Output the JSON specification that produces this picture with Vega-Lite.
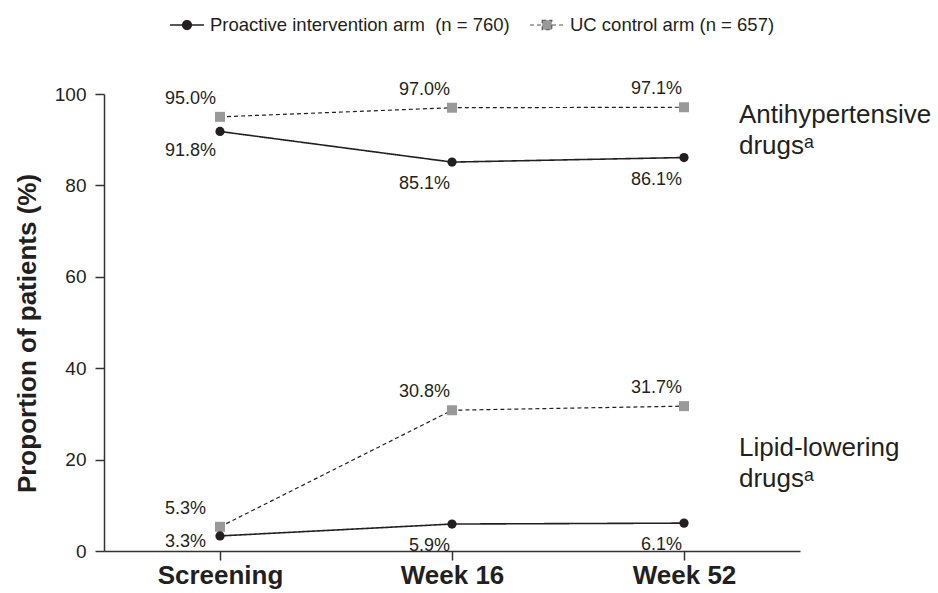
{
  "$schema": "https://vega.github.io/schema/vega-lite/v6.json",
  "width": 696,
  "height": 457,
  "autosize": {"type": "none"},
  "padding": {"left": 104, "top": 94, "right": 138, "bottom": 42},
  "datasets": {
    "usage": [
      {"drug": "Antihypertensive", "visit": "Screening", "arm": "Proactive", "value": 91.8},
      {"drug": "Antihypertensive", "visit": "Week 16", "arm": "Proactive", "value": 85.1},
      {"drug": "Antihypertensive", "visit": "Week 52", "arm": "Proactive", "value": 86.1},
      {"drug": "Antihypertensive", "visit": "Screening", "arm": "UC", "value": 95.0},
      {"drug": "Antihypertensive", "visit": "Week 16", "arm": "UC", "value": 97.0},
      {"drug": "Antihypertensive", "visit": "Week 52", "arm": "UC", "value": 97.1},
      {"drug": "Lipid", "visit": "Screening", "arm": "Proactive", "value": 3.3},
      {"drug": "Lipid", "visit": "Week 16", "arm": "Proactive", "value": 5.9},
      {"drug": "Lipid", "visit": "Week 52", "arm": "Proactive", "value": 6.1},
      {"drug": "Lipid", "visit": "Screening", "arm": "UC", "value": 5.3},
      {"drug": "Lipid", "visit": "Week 16", "arm": "UC", "value": 30.8},
      {"drug": "Lipid", "visit": "Week 52", "arm": "UC", "value": 31.7}
    ],
    "notes": [
      {"label": ["Antihypertensive", "drugsᵃ"], "value": 93.6},
      {"label": ["Lipid-lowering", "drugsᵃ"], "value": 20.8}
    ]
  },
  "data": {"name": "usage"},
  "transform": [
    {"calculate": "format(datum.value, '.1f') + '%'", "as": "pct"}
  ],
  "encoding": {
    "x": {
      "field": "visit",
      "type": "ordinal",
      "sort": ["Screening", "Week 16", "Week 52"],
      "scale": {"type": "point", "padding": 0.5},
      "axis": {
        "title": null,
        "labelAngle": 0,
        "labelFontSize": 26,
        "labelFontWeight": "bold",
        "labelColor": "#231f20",
        "labelBaseline": "alphabetic",
        "labelPadding": 23,
        "tickSize": 9,
        "tickWidth": 1.5,
        "tickColor": "#333333",
        "domainColor": "#333333",
        "domainWidth": 1.5
      }
    },
    "y": {
      "field": "value",
      "type": "quantitative",
      "scale": {"domain": [0, 100], "nice": false},
      "axis": {
        "title": "Proportion of patients (%)",
        "titleFontSize": 26,
        "titleFontWeight": "bold",
        "titleColor": "#231f20",
        "titleAngle": -90,
        "titleAlign": "center",
        "titleBaseline": "middle",
        "titleX": -77,
        "titleY": 239,
        "values": [0, 20, 40, 60, 80, 100],
        "grid": false,
        "labelFontSize": 19,
        "labelColor": "#231f20",
        "labelPadding": 9,
        "tickSize": 9,
        "tickWidth": 1.5,
        "tickColor": "#333333",
        "domainColor": "#333333",
        "domainWidth": 1.5
      }
    }
  },
  "layer": [
    {
      "mark": {"type": "line", "color": "#231f20"},
      "encoding": {
        "detail": {"field": "drug"},
        "strokeDash": {
          "field": "arm",
          "type": "nominal",
          "scale": {"domain": ["Proactive", "UC"], "range": [[1, 0], [4, 3]]},
          "legend": {
            "title": null,
            "orient": "none",
            "direction": "horizontal",
            "values": ["Proactive"],
            "legendX": 65,
            "legendY": -87,
            "symbolType": "M-1,0L1,0M-0.25,0A0.25,0.25,0,1,1,0.25,0A0.25,0.25,0,1,1,-0.25,0Z",
            "symbolSize": 1156,
            "symbolStrokeWidth": 1.6,
            "symbolFillColor": "#231f20",
            "symbolStrokeColor": "#231f20",
            "symbolOpacity": 1,
            "labelFontSize": 18.5,
            "labelColor": "#231f20",
            "labelOffset": 5,
            "labelLimit": 400,
            "labelExpr": "'Proactive intervention arm\u00a0 (n = 760)'"
          }
        },
        "strokeWidth": {
          "condition": {"test": "datum.arm === 'UC'", "value": 1.2},
          "value": 1.6
        }
      }
    },
    {
      "transform": [{"filter": "datum.arm === 'UC'"}],
      "mark": {"type": "point", "shape": "square", "filled": true, "size": 100, "opacity": 1},
      "encoding": {
        "color": {
          "field": "arm",
          "type": "nominal",
          "scale": {"domain": ["UC"], "range": ["#999999"]},
          "legend": {
            "title": null,
            "orient": "none",
            "direction": "horizontal",
            "values": ["UC"],
            "legendX": 425,
            "legendY": -87,
            "symbolType": "M-1,0L-0.3,0M0.3,0L1,0M-0.28,-0.28L0.28,-0.28L0.28,0.28L-0.28,0.28Z",
            "symbolSize": 1156,
            "symbolStrokeWidth": 1.2,
            "symbolDash": [4, 3],
            "symbolStrokeColor": "#555555",
            "symbolOpacity": 1,
            "labelFontSize": 18.5,
            "labelColor": "#231f20",
            "labelOffset": 5,
            "labelLimit": 400,
            "labelExpr": "'UC control arm (n = 657)'"
          }
        }
      }
    },
    {
      "transform": [{"filter": "datum.arm === 'Proactive'"}],
      "mark": {"type": "point", "shape": "circle", "filled": true, "size": 85, "color": "#231f20", "opacity": 1}
    },
    {
      "transform": [{"filter": "datum.arm === 'UC' && datum.visit !== 'Screening'"}],
      "mark": {"type": "text", "align": "right", "baseline": "middle", "dx": -2, "dy": -18, "fontSize": 18, "color": "#231f20"},
      "encoding": {"text": {"field": "pct"}}
    },
    {
      "transform": [{"filter": "datum.arm === 'UC' && datum.visit === 'Screening'"}],
      "mark": {"type": "text", "align": "left", "baseline": "middle", "dx": -55, "dy": -18, "fontSize": 18, "color": "#231f20"},
      "encoding": {"text": {"field": "pct"}}
    },
    {
      "transform": [{"filter": "datum.arm === 'Proactive' && datum.visit !== 'Screening'"}],
      "mark": {"type": "text", "align": "right", "baseline": "middle", "dx": -2, "dy": 22, "fontSize": 18, "color": "#231f20"},
      "encoding": {"text": {"field": "pct"}}
    },
    {
      "transform": [{"filter": "datum.arm === 'Proactive' && datum.visit === 'Screening' && datum.drug === 'Antihypertensive'"}],
      "mark": {"type": "text", "align": "left", "baseline": "middle", "dx": -55, "dy": 20, "fontSize": 18, "color": "#231f20"},
      "encoding": {"text": {"field": "pct"}}
    },
    {
      "transform": [{"filter": "datum.arm === 'Proactive' && datum.visit === 'Screening' && datum.drug === 'Lipid'"}],
      "mark": {"type": "text", "align": "left", "baseline": "middle", "dx": -55, "dy": 6, "fontSize": 18, "color": "#231f20"},
      "encoding": {"text": {"field": "pct"}}
    },
    {
      "data": {"name": "notes"},
      "mark": {"type": "text", "align": "left", "baseline": "alphabetic", "dx": 55, "fontSize": 26, "lineHeight": 31, "color": "#231f20"},
      "encoding": {
        "x": {"datum": "Week 52"},
        "text": {"field": "label"}
      }
    }
  ],
  "config": {
    "font": "Liberation Sans",
    "view": {"stroke": null}
  }
}
